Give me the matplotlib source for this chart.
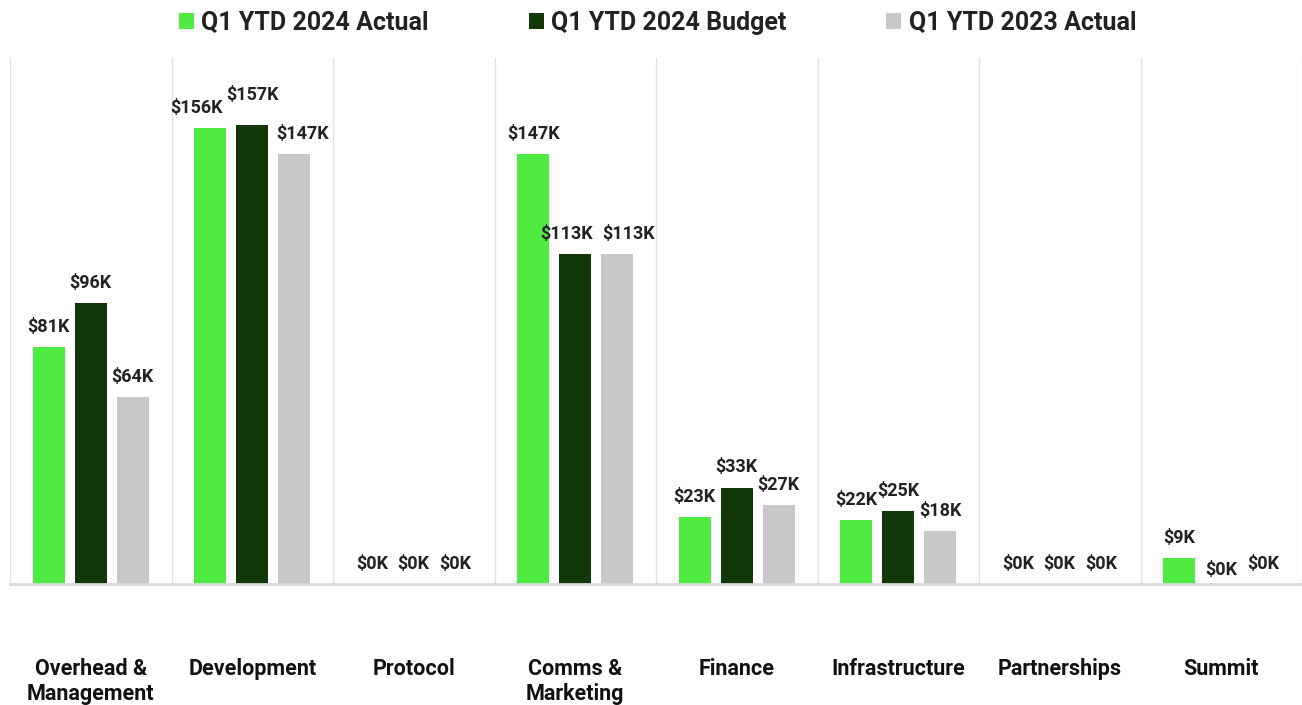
import numpy as np
import matplotlib.pyplot as plt

plt.rcParams['font.family'] = ['Roboto', 'DejaVu Sans']

categories = ['Overhead &\nManagement', 'Development', 'Protocol', 'Comms &\nMarketing',
              'Finance', 'Infrastructure', 'Partnerships', 'Summit']
series_names = ['Q1 YTD 2024 Actual', 'Q1 YTD 2024 Budget', 'Q1 YTD 2023 Actual']
actual_2024 = [81, 156, 0, 147, 23, 22, 0, 9]
budget_2024 = [96, 157, 0, 113, 33, 25, 0, 0]
actual_2023 = [64, 147, 0, 113, 27, 18, 0, 0]
colors = ['#4FEA42', '#12380A', '#C8C8C8']

# label nudges (pixels) where labels would collide: (series, category) -> (dx, dy)
nudges = {(0, 1): (-14, 0), (1, 1): (0, 10), (2, 1): (8, 0),
          (1, 3): (-9, 0), (2, 3): (11, 0), (1, 7): (0, -6)}

fig = plt.figure(figsize=(13.02, 7.05), dpi=100)
ax = fig.add_axes([10/1302, 1 - 584/705, 1 - 10/1302, (584 - 58)/705])

x = np.arange(len(categories))
width = 0.2
offsets = [-0.26, 0, 0.26]
all_series = [actual_2024, budget_2024, actual_2023]

for si, (vals, off, col, name) in enumerate(zip(all_series, offsets, colors, series_names)):
    bars = ax.bar(x + off, vals, width, color=col, label=name, zorder=2)
    for ci, (b, v) in enumerate(zip(bars, vals)):
        dx, dy = nudges.get((si, ci), (0, 0))
        ax.annotate(f'${v}K', (b.get_x() + b.get_width()/2, v),
                    xytext=(dx*0.72, 8 + dy*0.72),
                    textcoords='offset points', ha='center', va='bottom',
                    fontsize=13, fontweight='bold', color='#222222')

ax.set_xlim(-0.5, len(categories) - 0.5)
ax.set_ylim(0, 180)
ax.set_yticks([])
ax.set_xticks(x)
ax.set_xticklabels(categories, fontsize=15.5, fontweight='bold', color='#111111')
ax.tick_params(axis='x', length=0, pad=53)

# vertical separators between categories
for b in np.arange(-0.5, len(categories) + 0.5, 1):
    ax.axvline(b, color='#E3E3E3', lw=1, zorder=1)

for s in ['top', 'right', 'left']:
    ax.spines[s].set_visible(False)
ax.spines['bottom'].set_color('#D9D9D9')
ax.spines['bottom'].set_linewidth(2)

leg = fig.legend(loc='upper center', bbox_to_anchor=(0.505, 1.017), ncol=3, frameon=False,
                 handlelength=0.6, handleheight=0.6, handletextpad=0.3, columnspacing=4.0,
                 prop={'size': 18, 'weight': 'bold'})
for t in leg.get_texts():
    t.set_color('#222222')

fig.savefig('out.png', dpi=100)
